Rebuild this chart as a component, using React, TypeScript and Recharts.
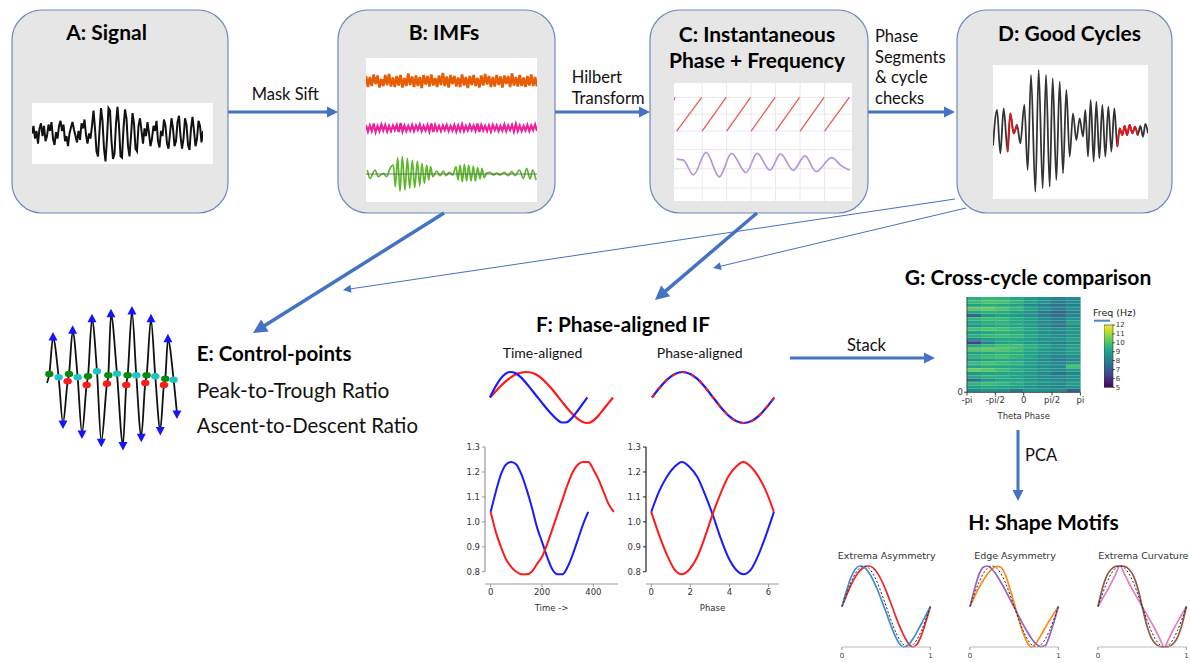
import React from "react";
import {
  LineChart,
  ComposedChart,
  BarChart,
  Line,
  Bar,
  Cell,
  XAxis,
  YAxis,
  ReferenceLine,
} from "recharts";

// ---------- A: raw signal (equally spaced samples, a.u.)
const signalA = [
  0.0, 0.3, -0.2, 0.1, -0.4, 0.2, 0.4, -0.1, 0.3, -0.3,
  -0.1, 0.35, 0.1, 0.45, -0.2, -0.45, 0.05, -0.2, 0.3, 0.5,
  0.1, 0.35, -0.3, -0.1, -0.5, 0.0, 0.25, 0.45, 0.15, -0.1,
  -0.35, 0.1, -0.25, 0.4, 0.2, 0.55, -0.05, -0.4, 0.0, -0.2,
  0.3, 0.9, 0.2, -0.7, -0.9, 0.1, 1.0, 0.5, -0.6, -1.1,
  -0.2, 1.0, 0.9, -0.3, -1.0, -0.8, 0.4, 1.05, 0.3, -0.9,
  -0.95, 0.2, 0.95, 0.6, -0.5, -0.9, -0.1, 0.8, 0.4, -0.6,
  -0.7, 0.3, 0.6,
  0.1, -0.4, 0.2, -0.1, 0.45, 0.0, -0.5, -0.2, 0.3, 0.1,
  0.5, -0.3, -0.55, 0.1, -0.1, 0.55, 0.3, -0.4, -0.6, 0.0,
  0.6, 0.2, -0.5, -0.3, 0.45, 0.7, -0.1, -0.6, -0.2, 0.6,
  0.35, -0.45, -0.65, 0.2, 0.65, 0.1, -0.5, -0.2, 0.5, 0.3,
  -0.35, 0.1,
];

// ---------- B: IMFs (sample index, a.u.)
const imfStart = 67;
const imfStep = 48;
const imfDomain = [67, 4339];
const imfTicks = [1000, 2000, 3000, 4000];
const imfFast = [
  0.5, -0.6, 0.4, -0.5, 0.65, -0.3, 0.55, -0.65, 0.2, -0.5,
  0.6, -0.4, 0.7, -0.55, 0.35, -0.6, 0.5, -0.45, 0.6, -0.65,
  0.3, -0.5, 0.75, -0.4, 0.45, -0.6, 0.55, -0.5, 0.4, -0.7,
  0.6, -0.35, 0.5, -0.55, 0.65, -0.45, 0.3, -0.6, 0.55, -0.4,
  0.8, -0.5, 0.45, -0.65, 0.6, -0.3, 0.5, -0.55, 0.35, -0.6,
  0.65, -0.45, 0.4, -0.7, 0.5, -0.4, 0.6, -0.5, 0.3, -0.65,
  0.55, -0.45, 0.7, -0.35, 0.5, -0.6, 0.4, -0.55, 0.6, -0.4,
  0.45, -0.65, 0.55, -0.3, 0.5, -0.6, 0.75, -0.45, 0.4, -0.55,
  0.6, -0.5, 0.35, -0.6, 0.5, -0.45, 0.65, -0.5, 0.4, -0.55,
];
const imfMid = [
  0.3, -0.35, 0.25, -0.3, 0.45, -0.4, 0.2, -0.3, 0.35, -0.25,
  0.3, -0.35, 0.2, -0.3, 0.25, -0.2, 0.3, -0.4, 0.5, -0.35,
  0.25, -0.3, 0.2, -0.25, 0.3, -0.3, 0.25, -0.2, 0.35, -0.3,
  0.2, -0.25, 0.3, -0.35, 0.45, -0.4, 0.3, -0.25, 0.2, -0.3,
  0.25, -0.2, 0.3, -0.3, 0.2, -0.25, 0.3, -0.35, 0.25, -0.3,
  0.35, -0.3, 0.2, -0.25, 0.3, -0.2, 0.25, -0.3, 0.45, -0.4,
  0.3, -0.25, 0.2, -0.3, 0.25, -0.35, 0.3, -0.2, 0.25, -0.3,
  0.2, -0.25, 0.35, -0.3, 0.25, -0.2, 0.3, -0.35, 0.4, -0.3,
  0.25, -0.3, 0.2, -0.25, 0.3, -0.3, 0.25, -0.2, 0.35, -0.3,
];
const imfSlowT = [
  100, 167, 292, 375, 500, 583, 666, 750, 800, 858, 916, 975, 1041, 1100, 1158,
  1225, 1283, 1350, 1408, 1466, 1524, 1583, 1633, 1683, 1733, 1833, 1916, 2000,
  2066, 2149, 2232, 2316, 2366, 2416, 2474, 2524, 2582, 2632, 2691, 2749, 2799,
  2857, 2916, 2966, 3015, 3082, 3165, 3249, 3332, 3415, 3515, 3624, 3707, 3790,
  3899, 3998, 4082, 4165, 4232, 4315,
];
const imfSlowV = [
  0.4, -0.43, 0.4, -0.27, 0.07, -0.27, 0.57, 0.9, -1.27, 1.63, -1.7, 1.73, -1.6,
  1.57, -1.43, 1.4, -1.37, 1.3, -1.17, 1.07, -0.93, 0.9, -0.6, 0.73, -0.27, 0.3,
  -0.17, 0.3, -0.17, 0.17, -0.1, 0.73, -0.6, 0.9, -0.77, 0.97, -0.7, 0.9, -0.7,
  0.8, -0.7, 0.63, -0.5, 0.57, -0.37, 0.1, 0.17, -0.1, 0.1, -0.1, 0.17, -0.17,
  0.23, -0.17, 0.4, -0.43, 0.57, -0.5, 0.4, -0.6,
];

// ---------- C: instantaneous phase (rad) and frequency (Hz)
const phaseT = [0, 4, 5, 11, 113, 114, 115, 213, 214, 215, 313, 314, 315, 413, 414, 415, 513, 514, 515, 613, 614, 615, 716];
const phaseV = [2.6, 3.14, null, -3.14, 3.14, null, -3.14, 3.14, null, -3.14, 3.14, null, -3.14, 3.14, null, -3.14, 3.14, null, -3.14, 3.14, null, -3.14, 3.14];
const ifT = [11, 38, 79, 131, 185, 235, 294, 340, 392, 435, 487, 535, 580, 644, 684, 718];
const ifHz = [10.0, 9.8, 6.7, 11.4, 6.3, 11.2, 7.2, 11.2, 7.7, 11.1, 7.7, 10.7, 7.4, 10.3, 8.6, 7.7];
const cGridT = [115, 215, 315, 415, 515, 615];
const cPhaseTicks = [-3.14, 0, 3.14];
const cFreqTicks = [4, 8, 12];

// ---------- D: good cycles
const cycT = [
  128, 140, 150, 160, 172, 180, 190, 200, 210, 222, 232, 242, 255, 265, 277, 287,
  298, 307, 318, 328, 338, 348, 358, 368, 378, 388, 398, 405, 413, 421, 430, 438,
  447, 456, 465, 474, 483, 492, 501, 508, 516, 523, 530, 538, 546, 554, 562, 570,
  578, 585, 593,
];
const cycV = [
  -0.37, 0.7, -0.6, 0.75, -0.55, 0.6, 0.0, 0.25, -0.3, 0.85, -1.1, 1.75, -1.75,
  1.9, -1.65, 1.75, -1.6, 1.65, -1.4, 1.55, -1.2, 1.3, -0.7, 0.6, -0.2, 0.45,
  -0.1, 0.7, -0.7, 1.0, -0.85, 0.95, -0.75, 0.85, -0.7, 0.8, -0.55, 0.75, -0.4,
  0.15, -0.05, 0.22, -0.05, 0.25, 0.0, 0.2, -0.05, 0.22, -0.1, 0.28, 0.0,
];
const cycRedSpans = [
  [172, 200],
  [501, 562],
];

// ---------- E: control points
const eT = [
  50, 57, 68, 85, 98, 112, 116, 127, 142, 155, 169, 173, 185, 200, 213, 230, 234,
  242, 260, 278, 288, 292, 305, 318, 333, 345, 349, 362, 375, 390, 401, 405, 413,
  430, 440,
];
const eV = [
  -0.2, 0.07, 1.15, -0.03, -1.4, -0.15, 0.07, 1.35, -0.03, -1.7, -0.26, 0.0, 1.7,
  0.15, -1.95, -0.22, 0.03, 1.85, 0.08, -2.05, -0.26, 0.03, 1.93, 0.03, -1.8,
  -0.2, 0.03, 1.7, 0.0, -1.6, -0.26, -0.07, 1.1, -0.1, -1.1,
];
const eKind = [
  "", "asc2", "peak", "desc", "trough", "asc1", "asc2", "peak", "desc", "trough",
  "asc1", "asc2", "peak", "desc", "trough", "asc1", "asc2", "peak", "desc",
  "trough", "asc1", "asc2", "peak", "desc", "trough", "asc1", "asc2", "peak",
  "desc", "trough", "asc1", "asc2", "peak", "desc", "trough",
];

// ---------- F: phase-aligned IF
const fT = [0, 20, 40, 60, 80, 100, 120, 140, 160, 180, 200, 220, 240, 260, 280, 300, 320, 340, 360, 380, 400, 420, 440, 460, 480];
const fWaveBlue = [0, 0.4, 0.72, 0.93, 1.0, 0.95, 0.8, 0.58, 0.33, 0.08, -0.17, -0.42, -0.65, -0.85, -0.98, -0.97, -0.8, -0.55, -0.27, 0.0];
const fWaveRed = [0, 0.22, 0.43, 0.62, 0.78, 0.9, 0.97, 1.0, 0.98, 0.9, 0.76, 0.57, 0.35, 0.1, -0.15, -0.4, -0.63, -0.82, -0.95, -1.0, -0.93, -0.75, -0.5, -0.25, 0.0];
const fIfBlue = [1.04, 1.12, 1.19, 1.23, 1.24, 1.23, 1.19, 1.13, 1.06, 0.98, 0.92, 0.86, 0.81, 0.79, 0.79, 0.82, 0.87, 0.93, 0.99, 1.04];
const fIfRed = [1.04, 0.96, 0.9, 0.85, 0.82, 0.8, 0.79, 0.79, 0.8, 0.83, 0.86, 0.91, 0.97, 1.03, 1.09, 1.15, 1.2, 1.23, 1.24, 1.24, 1.21, 1.17, 1.12, 1.07, 1.04];
const fPhase = [0, 0.39, 0.79, 1.18, 1.57, 1.96, 2.36, 2.75, 3.14, 3.53, 3.93, 4.32, 4.71, 5.11, 5.5, 5.89, 6.28];
const fWavePhase = [0, 0.38, 0.71, 0.92, 1.0, 0.92, 0.71, 0.38, 0, -0.38, -0.71, -0.92, -1.0, -0.92, -0.71, -0.38, 0];
const fIfPhaseBlue = [1.04, 1.12, 1.18, 1.22, 1.24, 1.22, 1.18, 1.11, 1.03, 0.94, 0.86, 0.81, 0.79, 0.81, 0.87, 0.95, 1.04];
const fIfPhaseRed = [1.04, 0.95, 0.87, 0.81, 0.79, 0.81, 0.86, 0.94, 1.03, 1.11, 1.18, 1.22, 1.24, 1.22, 1.18, 1.12, 1.04];
const fYTicks = [0.8, 0.9, 1.0, 1.1, 1.2, 1.3];
const fTimeTicks = [0, 200, 400];
const fPhaseTicks = [0, 2, 4, 6];

// ---------- G: cross-cycle IF (Hz), rows top -> bottom, 8 phase bins
const gRows = [
  [9.4, 9.6, 9.5, 9.2, 8.8, 8.4, 8.2, 8.3],
  [9.8, 10.0, 9.9, 9.5, 9.0, 8.6, 8.0, 8.4],
  [9.0, 9.3, 9.2, 8.9, 8.4, 7.9, 7.6, 8.0],
  [10.3, 10.4, 10.1, 9.6, 9.1, 8.5, 8.1, 8.6],
  [9.2, 9.5, 9.4, 9.0, 8.6, 7.8, 7.3, 7.9],
  [7.2, 8.6, 9.0, 8.8, 8.5, 8.0, 7.6, 8.2],
  [9.6, 9.8, 9.7, 9.3, 8.9, 8.4, 7.9, 8.5],
  [9.1, 9.4, 9.5, 9.2, 8.8, 8.3, 8.0, 9.0],
  [8.6, 9.0, 9.3, 9.1, 8.7, 8.1, 7.7, 8.3],
  [9.9, 10.1, 9.9, 9.6, 9.2, 8.7, 8.4, 8.8],
  [8.8, 9.2, 9.4, 9.3, 8.9, 8.5, 8.2, 8.7],
  [9.4, 9.7, 9.8, 9.6, 9.2, 8.7, 8.3, 8.6],
  [8.4, 8.9, 9.2, 9.2, 8.9, 8.5, 8.6, 9.1],
  [6.4, 8.1, 9.0, 9.1, 8.8, 8.4, 8.0, 8.5],
  [9.3, 9.6, 9.9, 9.8, 9.4, 8.9, 8.5, 8.9],
  [10.2, 10.3, 10.1, 9.8, 9.3, 8.8, 8.5, 9.0],
  [8.9, 9.2, 9.4, 9.3, 9.0, 8.6, 8.3, 8.8],
  [9.5, 9.8, 9.9, 9.6, 9.1, 8.5, 8.1, 8.4],
  [8.7, 9.0, 9.2, 9.1, 8.8, 8.3, 7.8, 8.2],
  [9.8, 10.0, 9.8, 9.5, 9.0, 8.6, 8.3, 8.8],
  [9.0, 9.3, 9.2, 9.0, 8.7, 8.4, 8.2, 9.9],
  [10.4, 10.2, 9.8, 9.4, 9.0, 8.6, 8.4, 8.9],
  [8.6, 8.9, 9.1, 9.0, 8.7, 8.2, 7.6, 8.1],
  [9.3, 9.5, 9.4, 9.1, 8.8, 8.5, 8.3, 8.6],
  [7.6, 8.5, 9.0, 9.0, 8.7, 8.4, 8.2, 8.5],
  [9.6, 9.8, 9.6, 9.3, 8.9, 8.6, 8.4, 8.9],
  [8.9, 9.2, 9.1, 8.9, 8.6, 8.3, 8.1, 8.5],
  [8.3, 8.6, 8.5, 7.8, 8.6, 8.5, 8.4, 7.2],
];
const gTicks = [0, 2, 4, 6, 8];
const gTickLabels = ["-pi", "-pi/2", "0", "pi/2", "pi"];
const gColorTicks = [5, 6, 7, 8, 9, 10, 11, 12];
const viridisStops = ["#440154", "#482475", "#414487", "#355f8d", "#2a788e", "#21918c", "#22a884", "#44bf70", "#7ad151", "#bddf26", "#fde725"];

// ---------- H: shape motifs (one normalised cycle)
const hX = [0, 0.05, 0.1, 0.15, 0.2, 0.25, 0.3, 0.35, 0.4, 0.45, 0.5, 0.55, 0.6, 0.65, 0.7, 0.75, 0.8, 0.85, 0.9, 0.95, 1];
const hSine = [0, 0.31, 0.59, 0.81, 0.95, 1, 0.95, 0.81, 0.59, 0.31, 0, -0.31, -0.59, -0.81, -0.95, -1, -0.95, -0.81, -0.59, -0.31, 0];
const hExtA = [0, 0.38, 0.71, 0.92, 1.0, 0.97, 0.85, 0.66, 0.42, 0.14, -0.15, -0.45, -0.72, -0.92, -1.0, -0.95, -0.81, -0.62, -0.42, -0.21, 0];
const hExtB = [0, 0.27, 0.52, 0.73, 0.88, 0.97, 1.0, 0.96, 0.83, 0.63, 0.38, 0.1, -0.2, -0.48, -0.72, -0.91, -1.0, -0.93, -0.7, -0.37, 0];
const hEdgeA = [0, 0.42, 0.78, 0.97, 1.0, 0.92, 0.78, 0.6, 0.4, 0.19, -0.02, -0.23, -0.44, -0.63, -0.8, -0.93, -0.99, -0.97, -0.72, -0.38, 0];
const hEdgeB = [0, 0.24, 0.46, 0.65, 0.81, 0.93, 0.99, 0.97, 0.78, 0.45, 0.08, -0.3, -0.65, -0.9, -1.0, -0.9, -0.72, -0.53, -0.34, -0.17, 0];
const hCurvA = [0, 0.45, 0.76, 0.92, 0.99, 1.0, 0.99, 0.92, 0.76, 0.45, 0, -0.45, -0.76, -0.92, -0.99, -1.0, -0.99, -0.92, -0.76, -0.45, 0];
const hCurvB = [0, 0.19, 0.38, 0.58, 0.8, 1.0, 0.8, 0.58, 0.38, 0.19, 0, -0.19, -0.38, -0.58, -0.8, -1.0, -0.8, -0.58, -0.38, -0.19, 0];

// ---------- helpers
const at = (left: number, top: number, width: number, height: number) => ({
  position: "absolute" as const,
  left,
  top,
  width,
  height,
});

const zip = (xs: number[], ys: (number | null)[], xk = "t", yk = "v") =>
  ys.map((y, i) => ({ [xk]: xs[i], [yk]: y }));

function hexMix(a: string, b: string, f: number) {
  const pa = [1, 3, 5].map((i) => parseInt(a.slice(i, i + 2), 16));
  const pb = [1, 3, 5].map((i) => parseInt(b.slice(i, i + 2), 16));
  return `rgb(${pa.map((c, i) => Math.round(c + (pb[i] - c) * f)).join(",")})`;
}
function viridis(v: number) {
  const n = Math.min(1, Math.max(0, (v - 5) / 7)) * 10;
  const i = Math.min(9, Math.floor(n));
  return hexMix(viridisStops[i], viridisStops[i + 1], n - i);
}

const MPL = "'DejaVu Sans', sans-serif";
const BLUE = "#4472c4";
const GRID = "#e9e9e9";

function Arrow({ x1, y1, x2, y2, w = 3, head = 11 }: any) {
  const dx = x2 - x1;
  const dy = y2 - y1;
  const len = Math.hypot(dx, dy);
  const ux = dx / len;
  const uy = dy / len;
  const bx = x2 - ux * head;
  const by = y2 - uy * head;
  const hw = head * 0.5;
  return (
    <g>
      <line x1={x1} y1={y1} x2={bx + ux} y2={by + uy} stroke={BLUE} strokeWidth={w} />
      <polygon
        points={`${x2},${y2} ${bx - uy * hw},${by + ux * hw} ${bx + uy * hw},${by - ux * hw}`}
        fill={BLUE}
      />
    </g>
  );
}

function ImfRow({ data, color, top, width }: any) {
  return (
    <div style={at(366, top, 171, 45)}>
      <ComposedChart width={171} height={45} margin={{ top: 0, right: 0, bottom: 0, left: 0 }}>
        <XAxis
          dataKey="t"
          type="number"
          domain={imfDomain}
          ticks={imfTicks}
          axisLine={false}
          tick={false}
          tickLine={{ stroke: "#777" }}
          tickSize={3}
          height={5}
        />
        <YAxis domain={[-2, 2]} hide />
        <Line data={data} dataKey="v" type="linear" stroke={color} strokeWidth={width} dot={false} isAnimationActive={false} />
      </ComposedChart>
    </div>
  );
}

function ShapePlot({ left, a, b, ca, cb }: any) {
  const rows = hX.map((x, i) => ({ x, s: hSine[i], a: a[i], b: b[i] }));
  return (
    <div style={at(left - 3, 562.7, 94.4, 99)}>
      <LineChart width={94.4} height={99} data={rows} margin={{ top: 3, right: 3, bottom: 0, left: 3 }}>
        <XAxis
          dataKey="x"
          type="number"
          domain={[0, 1]}
          ticks={[0, 1]}
          axisLine={{ stroke: "#bbb" }}
          tickLine={{ stroke: "#999" }}
          tickSize={3}
          tickMargin={3}
          height={15}
          tick={{ fontSize: 7, fill: "#444", fontFamily: MPL }}
        />
        <YAxis domain={[-1, 1]} hide />
        <Line dataKey="b" type="monotone" stroke={cb} strokeWidth={1.7} dot={false} isAnimationActive={false} />
        <Line dataKey="a" type="monotone" stroke={ca} strokeWidth={1.7} dot={false} isAnimationActive={false} />
        <Line dataKey="s" type="monotone" stroke="#222" strokeWidth={1} strokeDasharray="2 2" dot={false} isAnimationActive={false} />
      </LineChart>
    </div>
  );
}

const eDot = (p: any) => {
  const { cx, cy, payload, index } = p;
  const k = `ed${index}`;
  switch (payload.kind) {
    case "peak":
      return <polygon key={k} points={`${cx},${cy - 6} ${cx - 4.5},${cy + 2.5} ${cx + 4.5},${cy + 2.5}`} fill="#1414ff" />;
    case "trough":
      return <polygon key={k} points={`${cx},${cy + 6} ${cx - 4.5},${cy - 2.5} ${cx + 4.5},${cy - 2.5}`} fill="#1414ff" />;
    case "desc":
      return <ellipse key={k} cx={cx} cy={cy} rx={4.2} ry={3.2} fill="#20c4c4" />;
    case "asc1":
      return <ellipse key={k} cx={cx} cy={cy} rx={4.2} ry={3.2} fill="#ff1a1a" />;
    case "asc2":
      return <ellipse key={k} cx={cx} cy={cy} rx={4.2} ry={3.2} fill="#0a8a0a" />;
    default:
      return <g key={k} />;
  }
};

function IfAxes({ left, domain, ticks, label, blue, red, spine }: any) {
  const xmin = domain[0];
  return (
    <div style={at(left, 439.3, 160, 176)}>
      <ComposedChart width={160} height={176} margin={{ top: 8, right: 5, bottom: 0, left: 0 }}>
        <XAxis
          dataKey="t"
          type="number"
          domain={domain}
          ticks={ticks}
          axisLine={{ stroke: "#999", strokeWidth: 1.2 }}
          tickLine={{ stroke: "#999" }}
          tickSize={3}
          height={31}
          tick={{ fontSize: 8.5, fill: "#333", fontFamily: MPL }}
          label={{ value: label, position: "insideBottom", offset: 4, fontSize: 8.5, fill: "#333", fontFamily: MPL }}
        />
        <YAxis
          domain={[0.751, 1.3]}
          ticks={fYTicks}
          width={22}
          axisLine={false}
          tickLine={{ stroke: spine }}
          tickSize={3}
          tickFormatter={(v: number) => v.toFixed(1)}
          tick={{ fontSize: 8.5, fill: "#333", fontFamily: MPL }}
        />
        <ReferenceLine
          segment={[
            { x: xmin, y: 0.8 },
            { x: xmin, y: 1.3 },
          ]}
          stroke={spine}
          strokeWidth={1.2}
          ifOverflow="visible"
        />
        <Line data={blue} dataKey="v" type="monotone" stroke="#1a1aff" strokeWidth={2} dot={false} isAnimationActive={false} />
        <Line data={red} dataKey="v" type="monotone" stroke="#ff1a1a" strokeWidth={2} dot={false} isAnimationActive={false} />
      </ComposedChart>
    </div>
  );
}

export default function App() {
  const aRows = signalA.map((v, i) => ({ i, v }));
  const fastRows = imfFast.map((v, i) => ({ t: imfStart + i * imfStep, v }));
  const midRows = imfMid.map((v, i) => ({ t: imfStart + i * imfStep, v }));
  const slowRows = zip(imfSlowT, imfSlowV);
  const phaseRows = zip(phaseT, phaseV, "t", "ph");
  const ifRows = zip(ifT, ifHz, "t", "hz");
  const dRows = cycT.map((t, i) => ({
    t,
    v: cycV[i],
    red: cycRedSpans.some(([a, b]) => t >= a && t <= b) ? cycV[i] : null,
  }));
  const eRows = eT.map((x, i) => ({ x, y: eV[i], kind: eKind[i] }));
  const blueWave = zip(fT, fWaveBlue);
  const redWave = zip(fT, fWaveRed);
  const phaseWave = zip(fPhase, fWavePhase);
  const blueIf = zip(fT, fIfBlue);
  const redIf = zip(fT, fIfRed);
  const bluePhIf = zip(fPhase, fIfPhaseBlue);
  const redPhIf = zip(fPhase, fIfPhaseRed);
  const heatRows = gRows.map((r, j) => {
    const o: any = { cycle: String(gRows.length - 1 - j) };
    r.forEach((_, i) => (o[`w${i}`] = 1));
    return o;
  });

  const boxes = [
    [12, 216],
    [338, 217],
    [650, 218],
    [957, 215],
  ];
  const title = { fontFamily: "Lato, sans-serif", fontWeight: 700, fontSize: 21, fill: "#000" } as const;
  const body = { fontFamily: "Lato, sans-serif", fontSize: 16.5, fill: "#111" } as const;

  return (
    <div style={{ position: "absolute", left: 0, top: 0, width: 1190, height: 663, background: "#fff", overflow: "hidden" }}>
      <svg width={1190} height={663} style={{ position: "absolute", left: 0, top: 0 }}>
        <defs>
          <linearGradient id="viridisBar" x1="0" y1="1" x2="0" y2="0">
            {viridisStops.map((c, i) => (
              <stop key={c} offset={`${i * 10}%`} stopColor={c} />
            ))}
          </linearGradient>
        </defs>
        {boxes.map(([x, w]) => (
          <rect key={x} x={x} y={10} width={w} height={203} rx={30} fill="#e7e6e6" stroke="#7089bd" strokeWidth={1.2} />
        ))}
        <rect x={32} y={103} width={181} height={61} fill="#fff" />
        <rect x={366} y={58} width={171} height={144} fill="#fff" />
        <rect x={674} y={83} width={178} height={118} fill="#fff" />
        <rect x={993} y={65} width={155} height={134} fill="#fff" />
      </svg>

      {/* A */}
      <div style={at(32, 103, 171, 61)}>
        <LineChart width={171} height={61} data={aRows} margin={{ top: 0, right: 0, bottom: 0, left: 0 }}>
          <XAxis dataKey="i" type="number" domain={[0, signalA.length - 1]} hide />
          <YAxis domain={[-1.2, 1.2]} hide />
          <Line dataKey="v" type="linear" stroke="#111" strokeWidth={2} dot={false} isAnimationActive={false} />
        </LineChart>
      </div>

      {/* B */}
      <ImfRow data={fastRows} color="#e85d04" top={61} width={2.6} />
      <ImfRow data={midRows} color="#f0209a" top={107.5} width={2.2} />
      <div style={at(366, 154, 171, 45)}>
        <ComposedChart width={171} height={45} margin={{ top: 0, right: 0, bottom: 0, left: 0 }}>
          <XAxis dataKey="t" type="number" domain={imfDomain} ticks={imfTicks} axisLine={false} tick={false} tickLine={{ stroke: "#777" }} tickSize={3} height={5} />
          <YAxis domain={[-2, 2]} hide />
          <Line data={slowRows} dataKey="v" type="monotone" stroke="#5cb82a" strokeWidth={1.7} dot={false} isAnimationActive={false} />
          <ReferenceLine y={0} stroke="#555" strokeWidth={0.8} />
        </ComposedChart>
      </div>

      {/* C */}
      <div style={at(674, 83, 178, 118)}>
        <ComposedChart width={178} height={118} margin={{ top: 0, right: 0, bottom: 0, left: 0 }}>
          <XAxis dataKey="t" type="number" domain={[0, 727]} hide />
          <YAxis yAxisId="ph" domain={[-16.2, 5.83]} hide />
          <YAxis yAxisId="fr" domain={[1.26, 25.9]} hide />
          {cGridT.map((t) => (
            <ReferenceLine key={`gx${t}`} yAxisId="ph" x={t} stroke={GRID} strokeWidth={1} />
          ))}
          {cPhaseTicks.map((p) => (
            <ReferenceLine key={`gp${p}`} yAxisId="ph" y={p} stroke={GRID} strokeWidth={1} />
          ))}
          {cFreqTicks.map((f) => (
            <ReferenceLine key={`gf${f}`} yAxisId="fr" y={f} stroke={GRID} strokeWidth={1} />
          ))}
          <Line data={phaseRows} yAxisId="ph" dataKey="ph" type="linear" stroke="#ea5a52" strokeWidth={1.3} dot={false} connectNulls={false} isAnimationActive={false} />
          <Line data={ifRows} yAxisId="fr" dataKey="hz" type="monotone" stroke="#b595de" strokeWidth={1.7} dot={false} isAnimationActive={false} />
        </ComposedChart>
      </div>

      {/* D */}
      <div style={at(993, 65, 155, 134)}>
        <LineChart width={155} height={134} data={dRows} margin={{ top: 0, right: 0, bottom: 0, left: 0 }}>
          <XAxis dataKey="t" type="number" domain={[128, 593]} hide />
          <YAxis domain={[-1.97, 2.05]} hide />
          <Line dataKey="v" type="monotone" stroke="#333" strokeWidth={1.8} dot={false} isAnimationActive={false} />
          <Line dataKey="red" type="monotone" stroke="#e8141c" strokeWidth={1.8} dot={false} isAnimationActive={false} />
        </LineChart>
      </div>

      {/* E */}
      <div style={at(36.7, 302.4, 151.6, 152.6)}>
        <LineChart width={151.6} height={152.6} data={eRows} margin={{ top: 10, right: 10, bottom: 10, left: 10 }}>
          <XAxis dataKey="x" type="number" domain={[50, 445]} hide />
          <YAxis domain={[-2.05, 1.93]} hide />
          <Line dataKey="y" type="monotone" stroke="#111" strokeWidth={1.8} dot={eDot} isAnimationActive={false} />
        </LineChart>
      </div>

      {/* F top */}
      <div style={at(487, 369, 129, 57)}>
        <ComposedChart width={129} height={57} margin={{ top: 3, right: 3, bottom: 3, left: 3 }}>
          <XAxis dataKey="t" type="number" domain={[0, 480]} hide />
          <YAxis domain={[-1, 1]} hide />
          <Line data={redWave} dataKey="v" type="monotone" stroke="#ff1a1a" strokeWidth={2.2} dot={false} isAnimationActive={false} />
          <Line data={blueWave} dataKey="v" type="monotone" stroke="#1a1aff" strokeWidth={2.2} dot={false} isAnimationActive={false} />
        </ComposedChart>
      </div>
      <div style={at(648.7, 369, 128.3, 57)}>
        <LineChart width={128.3} height={57} data={phaseWave} margin={{ top: 3, right: 3, bottom: 3, left: 3 }}>
          <XAxis dataKey="t" type="number" domain={[0, 6.28]} hide />
          <YAxis domain={[-1, 1]} hide />
          <Line dataKey="v" type="monotone" stroke="#1a1aff" strokeWidth={2.2} dot={false} isAnimationActive={false} />
          <Line dataKey="v" type="monotone" stroke="#ff1a1a" strokeWidth={2.2} strokeDasharray="4 6" dot={false} isAnimationActive={false} />
        </LineChart>
      </div>

      {/* F bottom */}
      <IfAxes left={463} domain={[-22, 496]} ticks={fTimeTicks} label="Time ->" blue={blueIf} red={redIf} spine="#999" />
      <IfAxes left={624} domain={[-0.27, 6.54]} ticks={fPhaseTicks} label="Phase" blue={bluePhIf} red={redPhIf} spine="#222" />

      {/* G heatmap */}
      <div style={at(955.3, 297.3, 131.4, 124)}>
        <BarChart
          width={131.4}
          height={124}
          data={heatRows}
          layout="vertical"
          barCategoryGap={0}
          barGap={0}
          margin={{ top: 0, right: 6, bottom: 0, left: 0 }}
        >
          <XAxis
            type="number"
            domain={[0, 8]}
            ticks={gTicks}
            tickFormatter={(v: number) => gTickLabels[gTicks.indexOf(v)]}
            axisLine={{ stroke: "#333", strokeWidth: 0.8 }}
            tickLine={{ stroke: "#333" }}
            tickSize={3}
            height={28.6}
            tick={{ fontSize: 8.5, fill: "#333", fontFamily: MPL }}
            label={{ value: "Theta Phase", position: "insideBottom", offset: 2, fontSize: 8.5, fill: "#333", fontFamily: MPL }}
          />
          <YAxis
            type="category"
            dataKey="cycle"
            width={12}
            interval={0}
            axisLine={{ stroke: "#333", strokeWidth: 0.8 }}
            tickLine={false}
            tickSize={0}
            tickMargin={0}
            tick={(p: any) =>
              p.payload.value === "0" ? (
                <g key="t0">
                  <line x1={p.x - 3} x2={p.x} y1={p.y + 1.5} y2={p.y + 1.5} stroke="#333" />
                  <text x={p.x - 4} y={p.y + 4.5} textAnchor="end" fontSize={8.5} fill="#333" fontFamily={MPL}>
                    0
                  </text>
                </g>
              ) : (
                <g key={`t${p.index}`} />
              )
            }
          />
          {gRows[0].map((_, i) => (
            <Bar key={i} dataKey={`w${i}`} stackId="h" isAnimationActive={false}>
              {gRows.map((r, j) => (
                <Cell key={j} fill={viridis(r[i])} stroke={viridis(r[i])} strokeWidth={0.4} />
              ))}
            </Bar>
          ))}
        </BarChart>
      </div>
      {/* G colorbar */}
      <div style={at(1104, 321, 27, 70.3)}>
        <BarChart width={27} height={70.3} data={[{ k: "f", range: [5, 12] }]} barCategoryGap={0} margin={{ top: 4, right: 0, bottom: 4, left: 0 }}>
          <XAxis dataKey="k" hide />
          <YAxis
            orientation="right"
            domain={[5, 12]}
            ticks={gColorTicks}
            interval={0}
            width={18.3}
            axisLine={false}
            tickLine={{ stroke: "#333" }}
            tickSize={2}
            tickMargin={1}
            tick={{ fontSize: 7, fill: "#333", fontFamily: MPL }}
          />
          <Bar dataKey="range" fill="url(#viridisBar)" stroke="#333" strokeWidth={0.6} isAnimationActive={false} />
        </BarChart>
      </div>

      {/* H */}
      <ShapePlot left={841.7} a={hExtA} b={hExtB} ca="#3f8dc9" cb="#e8282a" />
      <ShapePlot left={970} a={hEdgeA} b={hEdgeB} ca="#9c5fc0" cb="#ff8a12" />
      <ShapePlot left={1098.3} a={hCurvA} b={hCurvB} ca="#8f5a44" cb="#e87cc8" />

      {/* text + arrows */}
      <svg width={1190} height={663} style={{ position: "absolute", left: 0, top: 0, pointerEvents: "none" }}>
        <text x={106.5} y={40} textAnchor="middle" {...title}>A: Signal</text>
        <text x={444} y={40} textAnchor="middle" {...title}>B: IMFs</text>
        <text x={757} y={41.5} textAnchor="middle" {...title}>C: Instantaneous</text>
        <text x={757} y={68} textAnchor="middle" {...title}>Phase + Frequency</text>
        <text x={1069.5} y={40.5} textAnchor="middle" {...title}>D: Good Cycles</text>

        <text x={251.7} y={100} {...body}>Mask Sift</text>
        <text x={571.7} y={83} {...body}>Hilbert</text>
        <text x={571.7} y={103.5} {...body}>Transform</text>
        <text x={875} y={41.7} {...body}>Phase</text>
        <text x={875} y={62.5} {...body}>Segments</text>
        <text x={875} y={83} {...body}>&amp; cycle</text>
        <text x={875} y={104} {...body}>checks</text>
        <text x={847} y={351} {...body}>Stack</text>
        <text x={1025} y={461} {...body}>PCA</text>

        <text x={196.7} y={361} {...title} fontSize={20.5}>E: Control-points</text>
        <text x={196.7} y={398} {...body} fontSize={20.8}>Peak-to-Trough Ratio</text>
        <text x={196.7} y={433} {...body} fontSize={20.4}>Ascent-to-Descent Ratio</text>

        <text x={623} y={331.5} textAnchor="middle" {...title} fontSize={20.7}>F: Phase-aligned IF</text>
        <text x={542.5} y={358} textAnchor="middle" {...body} fontSize={14}>Time-aligned</text>
        <text x={699.7} y={358} textAnchor="middle" {...body} fontSize={14}>Phase-aligned</text>

        <text x={1028} y={285} textAnchor="middle" {...title}>G: Cross-cycle comparison</text>
        <text x={1093} y={316} fontSize={9.5} fill="#222" fontFamily={MPL}>Freq (Hz)</text>
        <line x1={1094} x2={1110} y1={320.7} y2={320.7} stroke="#4a86d0" strokeWidth={2} />

        <text x={1043.5} y={529.5} textAnchor="middle" {...title}>H: Shape Motifs</text>
        <text x={886.7} y={558.5} textAnchor="middle" fontSize={9.5} fill="#333" fontFamily={MPL}>Extrema Asymmetry</text>
        <text x={1015} y={558.5} textAnchor="middle" fontSize={9.5} fill="#333" fontFamily={MPL}>Edge Asymmetry</text>
        <text x={1143.3} y={558.5} textAnchor="middle" fontSize={9.5} fill="#333" fontFamily={MPL}>Extrema Curvature</text>

        <Arrow x1={228} y1={112} x2={338} y2={112} w={3} head={11} />
        <Arrow x1={555} y1={112} x2={650} y2={112} w={3} head={11} />
        <Arrow x1={868} y1={112} x2={955} y2={112} w={3} head={11} />
        <Arrow x1={444} y1={213} x2={253} y2={333} w={3.5} head={14} />
        <Arrow x1={757} y1={213} x2={655} y2={300} w={3.5} head={14} />
        <Arrow x1={955} y1={199} x2={343} y2={290} w={1} head={8} />
        <Arrow x1={966} y1={208} x2={713} y2={268} w={1} head={8} />
        <Arrow x1={790} y1={358} x2={935} y2={358} w={3} head={11} />
        <Arrow x1={1018} y1={430} x2={1018} y2={501} w={3} head={11} />
      </svg>
    </div>
  );
}
